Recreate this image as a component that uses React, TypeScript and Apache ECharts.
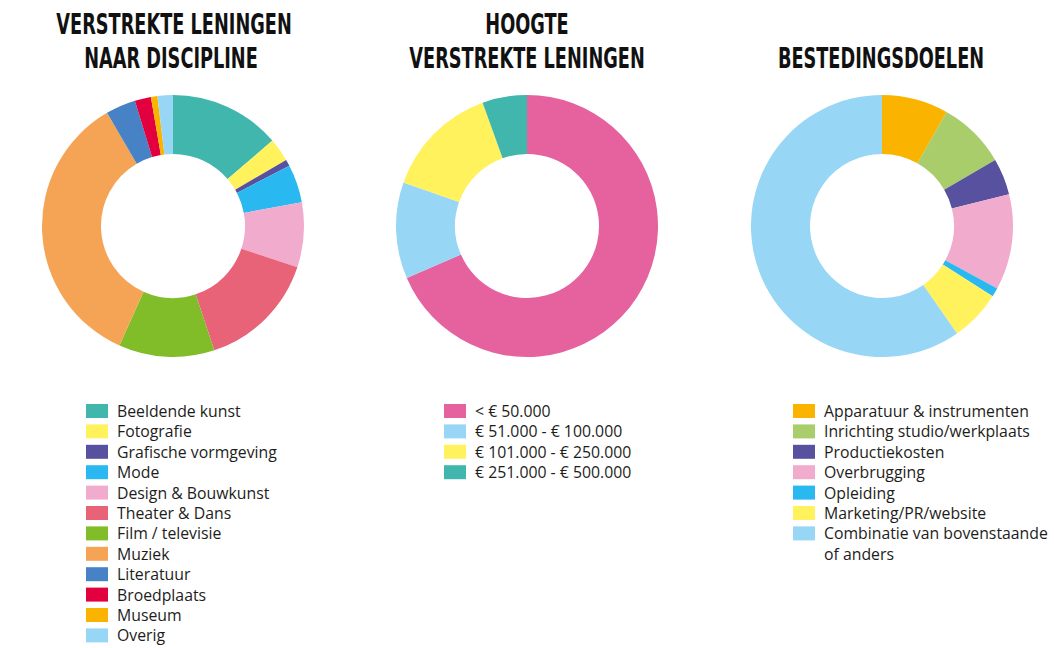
import { useEffect, useRef } from 'react';
import * as echarts from 'echarts';

// Verstrekte leningen naar discipline (share of loans, %)
const disciplineNames = [
  'Beeldende kunst',
  'Fotografie',
  'Grafische vormgeving',
  'Mode',
  'Design & Bouwkunst',
  'Theater & Dans',
  'Film / televisie',
  'Muziek',
  'Literatuur',
  'Broedplaats',
  'Museum',
  'Overig',
];
const disciplineValues = [13.7, 2.9, 0.8, 4.7, 8.0, 14.8, 11.8, 34.9, 3.7, 2.0, 0.8, 1.9];
const disciplineColors = [
  '#41b6ac', '#fff25c', '#57519f', '#2ab8f0', '#f0abcd', '#e96378',
  '#80bd28', '#f5a455', '#4682c5', '#e3003f', '#fab400', '#98d6f6',
];

// Hoogte verstrekte leningen
const amountNames = ['< € 50.000', '€ 51.000 - € 100.000', '€ 101.000 - € 250.000', '€ 251.000 - € 500.000'];
const amountValues = [68.5, 11.9, 14.1, 5.5];
const amountColors = ['#e5629f', '#98d6f6', '#fff25c', '#41b6ac'];

// Bestedingsdoelen
const purposeNames = [
  'Apparatuur & instrumenten',
  'Inrichting studio/werkplaats',
  'Productiekosten',
  'Overbrugging',
  'Opleiding',
  'Marketing/PR/website',
  'Combinatie van bovenstaande of anders',
];
const purposeValues = [8.2, 8.4, 4.5, 11.8, 1.1, 6.3, 59.7];
const purposeColors = ['#fab400', '#a9cd6b', '#57519f', '#f0abcd', '#2ab8f0', '#fff25c', '#98d6f6'];

const TITLE_FONT = '"Liberation Sans Narrow", "DejaVu Sans Condensed", sans-serif';
const LEGEND_FONT = '"Open Sans", sans-serif';
const LEGEND_SIZE = 15.8;
const LEGEND_TOP = 401;
const ROW = 20.4;
const WRAP = ' of anders';

const toData = (names: string[], values: number[], colors: string[]) =>
  names.map((name, i) => ({ name, value: values[i], itemStyle: { color: colors[i] } }));

const donut = (data: ReturnType<typeof toData>, cx: number) => ({
  type: 'pie',
  center: [cx, 226],
  radius: [72, 131],
  startAngle: 90,
  clockwise: true,
  label: { show: false },
  labelLine: { show: false },
  emphasis: { disabled: true },
  silent: true,
  data,
});

const legend = (names: string[], left: number) => ({
  orient: 'vertical',
  left,
  top: LEGEND_TOP,
  height: 300,
  padding: 0,
  icon: 'rect',
  itemWidth: 22,
  itemHeight: 14,
  itemGap: ROW - 20,
  selectedMode: false,
  textStyle: {
    fontFamily: LEGEND_FONT,
    fontSize: LEGEND_SIZE,
    color: '#1d1d1b',
    lineHeight: 20,
    padding: [0, 0, 0, 4],
  },
  // long label wraps; its second line is drawn below as a graphic text
  formatter: (n: string) => n.replace(WRAP, ''),
  data: names,
});

const titleText = (text: string, x: number, y: number) => ({
  type: 'text',
  x,
  y,
  scaleX: 0.68,
  style: {
    text,
    align: 'center',
    verticalAlign: 'middle',
    fontFamily: TITLE_FONT,
    fontWeight: 'bold',
    fontSize: 29,
    fill: '#111111',
  },
});

export default function App() {
  const ref = useRef<HTMLDivElement | null>(null);

  useEffect(() => {
    if (!ref.current) return;
    const chart = echarts.init(ref.current, undefined, { renderer: 'svg' });
    const wrapIdx = purposeNames.findIndex((n) => n.includes(WRAP));

    chart.setOption({
      animation: false,
      backgroundColor: '#ffffff',
      graphic: [
        titleText('VERSTREKTE LENINGEN', 174, 24),
        titleText('NAAR DISCIPLINE', 171, 58),
        titleText('HOOGTE', 527, 24),
        titleText('VERSTREKTE LENINGEN', 527, 58),
        titleText('BESTEDINGSDOELEN', 881, 58),
        {
          type: 'text',
          x: 793 + 22 + 9,
          y: LEGEND_TOP + 3 + 7 + (wrapIdx + 1) * ROW,
          style: {
            text: WRAP.trim(),
            verticalAlign: 'middle',
            fontFamily: LEGEND_FONT,
            fontSize: LEGEND_SIZE,
            fill: '#1d1d1b',
          },
        },
      ],
      legend: [
        legend(disciplineNames, 86),
        legend(amountNames, 444),
        legend(purposeNames, 793),
      ],
      series: [
        donut(toData(disciplineNames, disciplineValues, disciplineColors), 173),
        donut(toData(amountNames, amountValues, amountColors), 527),
        donut(toData(purposeNames, purposeValues, purposeColors), 882),
      ],
    });

    return () => chart.dispose();
  }, []);

  return (
    <div
      ref={ref}
      style={{ position: 'fixed', left: 0, top: 0, width: 1054, height: 648 }}
    />
  );
}
